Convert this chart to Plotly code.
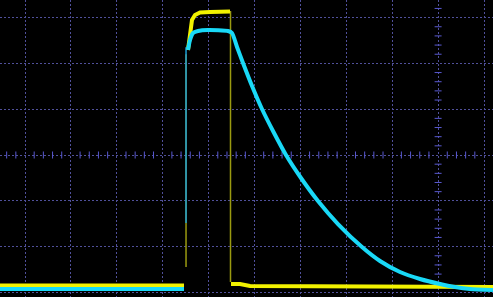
import numpy as np
import plotly.graph_objects as go

# Values in screen divisions (grid lines at integers; scope centre at x=9, y=0)
X_RANGE = [-0.545, 10.196]
Y_RANGE = [-3.100, 3.384]

# Channel 1 (yellow)
ch1_x = [-0.545, 3.464, None,
         3.551, 3.595, 3.638, 3.704, 3.769, 3.813, 4.031, 4.292, 4.357, 4.466, None,
         4.488, 4.684, 4.902, 10.196]
ch1_y = [-2.849, -2.849, None,
         2.293, 2.729, 2.948, 3.057, 3.100, 3.111, 3.122, 3.133, 3.133, 3.133, None,
         -2.817, -2.817, -2.860, -2.882]

# Channel 1 fast edges (dim)
ch1_edge_x = [3.508, 3.508, None, 4.477, 4.477]
ch1_edge_y = [-2.445, 2.20, None, 3.144, -2.773]

# Channel 2 (cyan)
ch2_x = [-0.545, 3.464, None,
         3.551, 3.595, 3.660, 3.769, 3.987, 4.423, 4.510, 4.619, 4.749, 4.946, 5.163,
         5.403, 5.686, 6.013, 6.383, 6.819, 7.342, 7.734, 8.170, 8.606, 9.041, 9.368,
         9.695, 10.196]
ch2_y = [-2.926, -2.926, None,
         2.293, 2.511, 2.664, 2.707, 2.729, 2.707, 2.664, 2.358, 2.009, 1.507, 1.004,
         0.524, 0.000, -0.502, -1.004, -1.507, -2.009, -2.314, -2.555, -2.707, -2.817, -2.882,
         -2.926, -2.948]

ch2_edge_x = [3.508, 3.508]
ch2_edge_y = [-1.485, 2.35]

CENTER_X = 9
CENTER_Y = 0

fig = go.Figure()

# minor ticks on centre axes
hx = [v for v in np.round(np.arange(-0.4, 10.2, 0.2), 3) if abs(v - round(v)) > 1e-6]
vy = [v for v in np.round(np.arange(-3.0, 3.4, 0.2), 3) if abs(v - round(v)) > 1e-6]
fig.add_trace(go.Scatter(x=hx, y=[CENTER_Y] * len(hx), mode="markers",
                         marker=dict(symbol="line-ns", size=5,
                                     line=dict(color="#5858d0", width=1)),
                         hoverinfo="skip", showlegend=False))
fig.add_trace(go.Scatter(x=[CENTER_X] * len(vy), y=vy, mode="markers",
                         marker=dict(symbol="line-ew", size=5,
                                     line=dict(color="#5858d0", width=1)),
                         hoverinfo="skip", showlegend=False))

fig.add_trace(go.Scatter(x=ch1_edge_x, y=ch1_edge_y, mode="lines",
                         line=dict(color="#9a9a10", width=1.5),
                         hoverinfo="skip", showlegend=False))
fig.add_trace(go.Scatter(x=ch1_x, y=ch1_y, mode="lines",
                         line=dict(color="#f2f200", width=4),
                         hoverinfo="skip", showlegend=False))
fig.add_trace(go.Scatter(x=ch2_edge_x, y=ch2_edge_y, mode="lines",
                         line=dict(color="#1a9fd8", width=1.5),
                         hoverinfo="skip", showlegend=False))
fig.add_trace(go.Scatter(x=ch2_x, y=ch2_y, mode="lines",
                         line=dict(color="#19d9f7", width=4, shape="spline", smoothing=0.6),
                         hoverinfo="skip", showlegend=False))

axis_common = dict(showgrid=True, gridcolor="#50509a", gridwidth=1, griddash="2px,2px",
                   zeroline=False, showticklabels=False, ticks="", showline=False,
                   tick0=0, dtick=1, fixedrange=True)
fig.update_xaxes(range=X_RANGE, **axis_common)
fig.update_yaxes(range=Y_RANGE, **axis_common)

fig.update_layout(width=493, height=297, margin=dict(l=0, r=0, t=0, b=0),
                  paper_bgcolor="#000000", plot_bgcolor="#000000",
                  showlegend=False)

fig.write_html("out.html", config={"displayModeBar": False})
